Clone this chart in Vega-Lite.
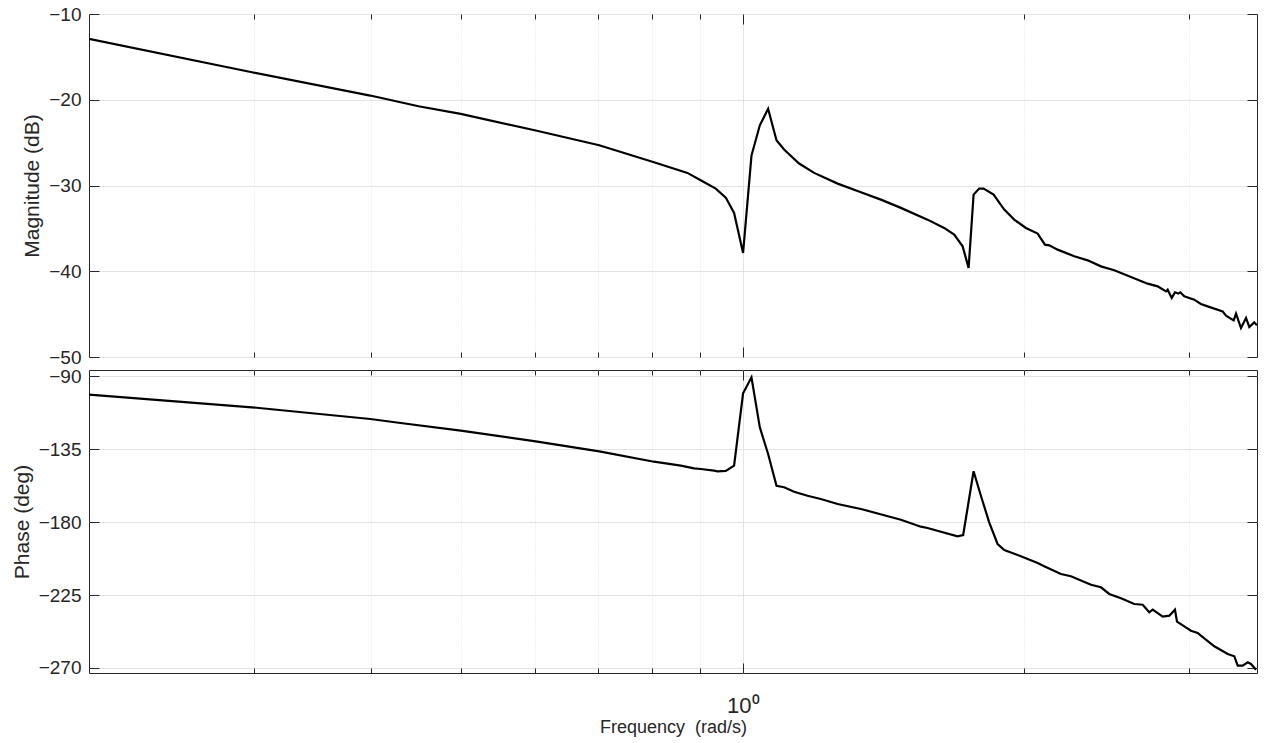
{
  "$schema": "https://vega.github.io/schema/vega-lite/v6.json",
  "padding": {"left": 10, "top": 4, "right": 8, "bottom": 0},
  "background": "white",
  "spacing": 13,
  "bounds": "flush",
  "config": {
    "font": "Liberation Sans",
    "view": {"stroke": "#262626", "strokeWidth": 1},
    "axis": {
      "labelFont": "Liberation Sans",
      "titleFont": "Liberation Sans",
      "labelFontSize": 19,
      "titleFontSize": 21,
      "titleFontWeight": "normal",
      "labelColor": "#262626",
      "titleColor": "#262626",
      "gridColor": "#e3e3e3",
      "gridOpacity": 1,
      "tickColor": "#262626",
      "domain": false,
      "labelOverlap": false
    }
  },
  "datasets": {
    "mag": [
      {"f": 0.2, "db": -12.89}, {"f": 0.2987, "db": -16.79}, {"f": 0.3997, "db": -19.51},
      {"f": 0.4501, "db": -20.76}, {"f": 0.4994, "db": -21.65}, {"f": 0.6007, "db": -23.59},
      {"f": 0.7023, "db": -25.31}, {"f": 0.8036, "db": -27.29}, {"f": 0.8726, "db": -28.53},
      {"f": 0.9056, "db": -29.51}, {"f": 0.9356, "db": -30.36}, {"f": 0.959, "db": -31.41},
      {"f": 0.9788, "db": -33.2}, {"f": 1.0007, "db": -37.86}, {"f": 1.0216, "db": -26.51},
      {"f": 1.0428, "db": -22.98}, {"f": 1.0643, "db": -21.06}, {"f": 1.0865, "db": -24.73},
      {"f": 1.107, "db": -25.81}, {"f": 1.1487, "db": -27.44}, {"f": 1.192, "db": -28.53},
      {"f": 1.263, "db": -29.78}, {"f": 1.3375, "db": -30.79}, {"f": 1.4049, "db": -31.65},
      {"f": 1.4757, "db": -32.61}, {"f": 1.5757, "db": -33.98}, {"f": 1.6416, "db": -34.95},
      {"f": 1.6827, "db": -35.73}, {"f": 1.7179, "db": -37.09}, {"f": 1.7435, "db": -39.61},
      {"f": 1.765, "db": -31.06}, {"f": 1.7895, "db": -30.36}, {"f": 1.809, "db": -30.36},
      {"f": 1.8541, "db": -31.06}, {"f": 1.9034, "db": -32.81}, {"f": 1.9508, "db": -33.98},
      {"f": 2.0077, "db": -34.95}, {"f": 2.0664, "db": -35.61}, {"f": 2.1038, "db": -36.9},
      {"f": 2.1262, "db": -36.98}, {"f": 2.1707, "db": -37.48}, {"f": 2.2614, "db": -38.26},
      {"f": 2.3372, "db": -38.73}, {"f": 2.4149, "db": -39.43}, {"f": 2.4952, "db": -39.89},
      {"f": 2.6001, "db": -40.67}, {"f": 2.7092, "db": -41.45}, {"f": 2.7768, "db": -41.76},
      {"f": 2.8343, "db": -42.35}, {"f": 2.846, "db": -42.15}, {"f": 2.8743, "db": -43.12},
      {"f": 2.8975, "db": -42.46}, {"f": 2.9211, "db": -42.61}, {"f": 2.9359, "db": -42.46},
      {"f": 2.9648, "db": -42.93}, {"f": 3.0385, "db": -43.31}, {"f": 3.0885, "db": -43.82},
      {"f": 3.1404, "db": -44.1}, {"f": 3.2584, "db": -44.68}, {"f": 3.2855, "db": -45.18},
      {"f": 3.3481, "db": -45.73}, {"f": 3.3675, "db": -44.95}, {"f": 3.4089, "db": -46.62},
      {"f": 3.4514, "db": -45.45}, {"f": 3.4794, "db": -46.5}, {"f": 3.5222, "db": -45.96},
      {"f": 3.5458, "db": -46.31}
    ],
    "phase": [
      {"f": 0.2, "deg": -101.35}, {"f": 0.2987, "deg": -109.13}, {"f": 0.3997, "deg": -116.35},
      {"f": 0.4307, "deg": -118.82}, {"f": 0.4994, "deg": -123.57}, {"f": 0.6007, "deg": -130.11},
      {"f": 0.7023, "deg": -136.28}, {"f": 0.8036, "deg": -142.7}, {"f": 0.8585, "deg": -145.16},
      {"f": 0.8869, "deg": -146.77}, {"f": 0.9017, "deg": -147.2}, {"f": 0.9317, "deg": -148.25},
      {"f": 0.9395, "deg": -148.62}, {"f": 0.959, "deg": -148.4}, {"f": 0.9788, "deg": -145.16},
      {"f": 1.0007, "deg": -100.49}, {"f": 1.0216, "deg": -90.62}, {"f": 1.0428, "deg": -121.47},
      {"f": 1.0643, "deg": -137.95}, {"f": 1.0865, "deg": -157.51}, {"f": 1.107, "deg": -158.49},
      {"f": 1.1347, "deg": -161.21}, {"f": 1.1727, "deg": -163.68}, {"f": 1.2117, "deg": -165.71},
      {"f": 1.263, "deg": -168.8}, {"f": 1.3375, "deg": -171.88}, {"f": 1.4757, "deg": -178.49},
      {"f": 1.5501, "deg": -182.81}, {"f": 1.5757, "deg": -183.61}, {"f": 1.6966, "deg": -188.73},
      {"f": 1.7203, "deg": -187.93}, {"f": 1.765, "deg": -148.62}, {"f": 1.797, "deg": -163.68},
      {"f": 1.8341, "deg": -180.09}, {"f": 1.8725, "deg": -193.48}, {"f": 1.9034, "deg": -197.18},
      {"f": 1.9829, "deg": -201.07}, {"f": 2.0664, "deg": -205.2}, {"f": 2.1001, "deg": -207.24},
      {"f": 2.1884, "deg": -212.0}, {"f": 2.243, "deg": -213.41}, {"f": 2.3564, "deg": -218.6},
      {"f": 2.4149, "deg": -220.2}, {"f": 2.465, "deg": -224.33}, {"f": 2.5371, "deg": -226.99},
      {"f": 2.6214, "deg": -230.5}, {"f": 2.6762, "deg": -230.94}, {"f": 2.72, "deg": -235.63},
      {"f": 2.7431, "deg": -234.02}, {"f": 2.8115, "deg": -238.34}, {"f": 2.8575, "deg": -237.72},
      {"f": 2.8975, "deg": -234.02}, {"f": 2.9121, "deg": -241.43}, {"f": 3.0142, "deg": -246.98},
      {"f": 3.0643, "deg": -248.4}, {"f": 3.0885, "deg": -250.06}, {"f": 3.1922, "deg": -256.61},
      {"f": 3.2992, "deg": -261.36}, {"f": 3.3535, "deg": -262.78}, {"f": 3.3815, "deg": -268.58},
      {"f": 3.423, "deg": -268.58}, {"f": 3.4657, "deg": -266.48}, {"f": 3.4939, "deg": -267.53},
      {"f": 3.5376, "deg": -271.05}
    ]
  },
  "vconcat": [
    {
      "width": 1168,
      "height": 343,
      "data": {"name": "mag"},
      "layer": [
        {
          "mark": {"type": "line", "color": "black", "strokeWidth": 2.2, "clip": true},
          "encoding": {
            "x": {
              "field": "f", "type": "quantitative",
              "scale": {"type": "log", "domain": [0.2, 3.546], "nice": false},
              "axis": {
                "orient": "bottom", "title": null, "labels": false, "ticks": false, "tickSize": 0,
                "values": [0.3, 0.4, 0.5, 0.6, 0.7, 0.8, 0.9, 1, 2, 3],
                "grid": true,
                "gridDash": {"condition": {"test": "datum.value == 1", "value": []}, "value": [1, 2]}
              }
            },
            "y": {
              "field": "db", "type": "quantitative",
              "scale": {"domain": [-50, -10], "nice": false, "zero": false},
              "axis": {
                "orient": "left", "title": "Magnitude (dB)",
                "values": [-50, -40, -30, -20, -10],
                "grid": true, "ticks": false, "tickSize": 0, "labelPadding": 8, "titlePadding": 6
              }
            }
          }
        },
        {
          "mark": {"type": "line", "opacity": 0},
          "encoding": {
            "x": {
              "field": "f", "type": "quantitative",
              "axis": {
                "orient": "top", "offset": -343, "title": null, "labels": false, "grid": false,
                "values": [0.3, 0.4, 0.5, 0.6, 0.7, 0.8, 0.9, 1, 2, 3],
                "tickSize": {"condition": {"test": "datum.value == 1", "value": 10}, "value": 5}
              }
            },
            "y": {
              "field": "db", "type": "quantitative",
              "axis": {
                "orient": "right", "offset": -1168, "title": null, "labels": false, "grid": false,
                "values": [-50, -40, -30, -20, -10], "tickSize": 10
              }
            }
          }
        },
        {
          "mark": {"type": "line", "opacity": 0},
          "encoding": {
            "x": {
              "field": "f", "type": "quantitative",
              "axis": {
                "orient": "bottom", "offset": -343, "title": null, "labels": false, "grid": false,
                "values": [0.3, 0.4, 0.5, 0.6, 0.7, 0.8, 0.9, 1, 2, 3],
                "tickSize": {"condition": {"test": "datum.value == 1", "value": 10}, "value": 5}
              }
            },
            "y": {
              "field": "db", "type": "quantitative",
              "axis": {
                "orient": "left", "offset": -1168, "title": null, "labels": false, "grid": false,
                "values": [-50, -40, -30, -20, -10], "tickSize": 10
              }
            }
          }
        }
      ],
      "resolve": {"axis": {"x": "independent", "y": "independent"}}
    },
    {
      "width": 1168,
      "height": 303,
      "data": {"name": "phase"},
      "layer": [
        {
          "mark": {"type": "line", "color": "black", "strokeWidth": 2.2, "clip": true},
          "encoding": {
            "x": {
              "field": "f", "type": "quantitative",
              "scale": {"type": "log", "domain": [0.2, 3.546], "nice": false},
              "axis": {
                "orient": "bottom", "title": "Frequency \u00a0(rad/s)", "titleFontSize": 18,
                "values": [0.3, 0.4, 0.5, 0.6, 0.7, 0.8, 0.9, 1, 2, 3],
                "labelExpr": "datum.value == 1 ? '10⁰' : ''",
                "labelFontSize": 22,
                "grid": true, "ticks": false, "tickSize": 0,
                "gridDash": {"condition": {"test": "datum.value == 1", "value": []}, "value": [1, 2]},
                "labelPadding": 22, "titlePadding": 2
              }
            },
            "y": {
              "field": "deg", "type": "quantitative",
              "scale": {"domain": [-273.1, -86.1], "nice": false, "zero": false},
              "axis": {
                "orient": "left", "title": "Phase (deg)",
                "values": [-270, -225, -180, -135, -90],
                "grid": true, "ticks": false, "tickSize": 0, "labelPadding": 8, "titlePadding": 6
              }
            }
          }
        },
        {
          "mark": {"type": "line", "opacity": 0},
          "encoding": {
            "x": {
              "field": "f", "type": "quantitative",
              "axis": {
                "orient": "top", "offset": -303, "title": null, "labels": false, "grid": false,
                "values": [0.3, 0.4, 0.5, 0.6, 0.7, 0.8, 0.9, 1, 2, 3],
                "tickSize": {"condition": {"test": "datum.value == 1", "value": 10}, "value": 5}
              }
            },
            "y": {
              "field": "deg", "type": "quantitative",
              "axis": {
                "orient": "right", "offset": -1168, "title": null, "labels": false, "grid": false,
                "values": [-270, -225, -180, -135, -90], "tickSize": 10
              }
            }
          }
        },
        {
          "mark": {"type": "line", "opacity": 0},
          "encoding": {
            "x": {
              "field": "f", "type": "quantitative",
              "axis": {
                "orient": "bottom", "offset": -303, "title": null, "labels": false, "grid": false,
                "values": [0.3, 0.4, 0.5, 0.6, 0.7, 0.8, 0.9, 1, 2, 3],
                "tickSize": {"condition": {"test": "datum.value == 1", "value": 10}, "value": 5}
              }
            },
            "y": {
              "field": "deg", "type": "quantitative",
              "axis": {
                "orient": "left", "offset": -1168, "title": null, "labels": false, "grid": false,
                "values": [-270, -225, -180, -135, -90], "tickSize": 10
              }
            }
          }
        }
      ],
      "resolve": {"axis": {"x": "independent", "y": "independent"}}
    }
  ]
}
